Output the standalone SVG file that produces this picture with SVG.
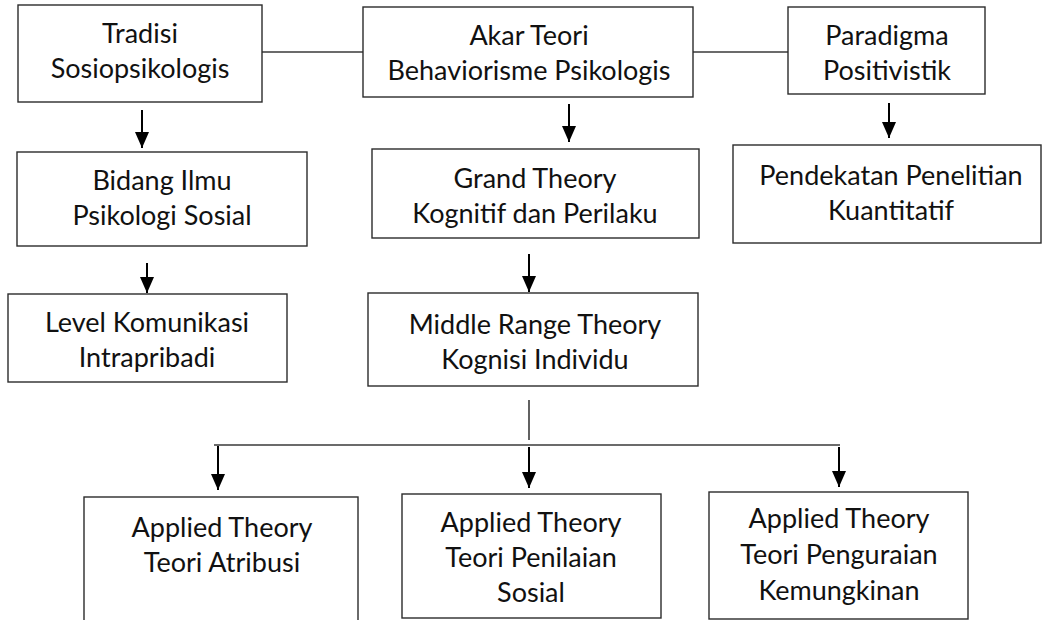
<svg xmlns="http://www.w3.org/2000/svg" width="1042" height="620" viewBox="0 0 1042 620">
  <defs>
    <marker id="head" markerUnits="userSpaceOnUse" markerWidth="16" markerHeight="14" refX="16" refY="7" orient="auto" viewBox="0 0 16 14">
      <path d="M0,0 L16,7 L0,14 Z" fill="#000"/>
    </marker>
    <style>
      .box { fill: #fff; stroke: #2b2b2b; stroke-width: 1.4; }
      .lbl { font-family: Lato, "Liberation Sans", sans-serif; font-size: 27px; fill: #111; text-anchor: middle; }
      .link { fill: none; stroke: #3a3a3a; stroke-width: 1.6; }
      .arrow { fill: none; stroke: #000; stroke-width: 2; marker-end: url(#head); }
    </style>
  </defs>
  <rect width="1042" height="620" fill="#fff"/>

  <g id="connectors">
    <line class="link" x1="262" y1="52" x2="363" y2="52"/>
    <line class="link" x1="693" y1="52" x2="788" y2="52"/>
    <line class="arrow" x1="142" y1="110" x2="142" y2="148"/>
    <line class="arrow" x1="569" y1="104" x2="569" y2="142"/>
    <line class="arrow" x1="889" y1="103" x2="889" y2="138"/>
    <line class="arrow" x1="147" y1="263" x2="147" y2="293"/>
    <line class="arrow" x1="529" y1="254" x2="529" y2="292"/>
    <line class="link" x1="529" y1="400" x2="529" y2="440" stroke-width="1"/>
    <line class="link" x1="214" y1="445" x2="840" y2="445"/>
    <line class="arrow" x1="218" y1="446" x2="218" y2="490"/>
    <line class="arrow" x1="529" y1="447" x2="529" y2="488"/>
    <line class="arrow" x1="839" y1="447" x2="839" y2="487"/>
  </g>

  <g id="tradisi">
    <rect class="box" x="18" y="5" width="244" height="97"/>
    <text class="lbl" x="140" y="43">Tradisi</text>
    <text class="lbl" x="140" y="78">Sosiopsikologis</text>
  </g>
  <g id="akar-teori">
    <rect class="box" x="363" y="7" width="330" height="90"/>
    <text class="lbl" x="529" y="45">Akar Teori</text>
    <text class="lbl" x="529" y="80">Behaviorisme Psikologis</text>
  </g>
  <g id="paradigma">
    <rect class="box" x="788" y="7" width="197" height="87"/>
    <text class="lbl" x="887" y="45">Paradigma</text>
    <text class="lbl" x="887" y="80">Positivistik</text>
  </g>
  <g id="bidang-ilmu">
    <rect class="box" x="17" y="152" width="290" height="94"/>
    <text class="lbl" x="162" y="190">Bidang Ilmu</text>
    <text class="lbl" x="162" y="225">Psikologi Sosial</text>
  </g>
  <g id="grand-theory">
    <rect class="box" x="372" y="149" width="327" height="89"/>
    <text class="lbl" x="535" y="188">Grand Theory</text>
    <text class="lbl" x="535" y="223">Kognitif dan Perilaku</text>
  </g>
  <g id="pendekatan">
    <rect class="box" x="733" y="145" width="308" height="98"/>
    <text class="lbl" x="891" y="185">Pendekatan Penelitian</text>
    <text class="lbl" x="891" y="220">Kuantitatif</text>
  </g>
  <g id="level-komunikasi">
    <rect class="box" x="8" y="294" width="279" height="88"/>
    <text class="lbl" x="147" y="332">Level Komunikasi</text>
    <text class="lbl" x="147" y="367">Intrapribadi</text>
  </g>
  <g id="middle-range">
    <rect class="box" x="368" y="293" width="330" height="93"/>
    <text class="lbl" x="535" y="334">Middle Range Theory</text>
    <text class="lbl" x="535" y="369">Kognisi Individu</text>
  </g>
  <g id="teori-atribusi">
    <rect class="box" x="84" y="497" width="274" height="130"/>
    <text class="lbl" x="222" y="537">Applied Theory</text>
    <text class="lbl" x="222" y="572">Teori Atribusi</text>
  </g>
  <g id="teori-penilaian">
    <rect class="box" x="402" y="494" width="259" height="124"/>
    <text class="lbl" x="531" y="532">Applied Theory</text>
    <text class="lbl" x="531" y="567">Teori Penilaian</text>
    <text class="lbl" x="531" y="602">Sosial</text>
  </g>
  <g id="teori-penguraian">
    <rect class="box" x="709" y="492" width="259" height="127"/>
    <text class="lbl" x="839" y="528">Applied Theory</text>
    <text class="lbl" x="839" y="564">Teori Penguraian</text>
    <text class="lbl" x="839" y="600">Kemungkinan</text>
  </g>
</svg>
